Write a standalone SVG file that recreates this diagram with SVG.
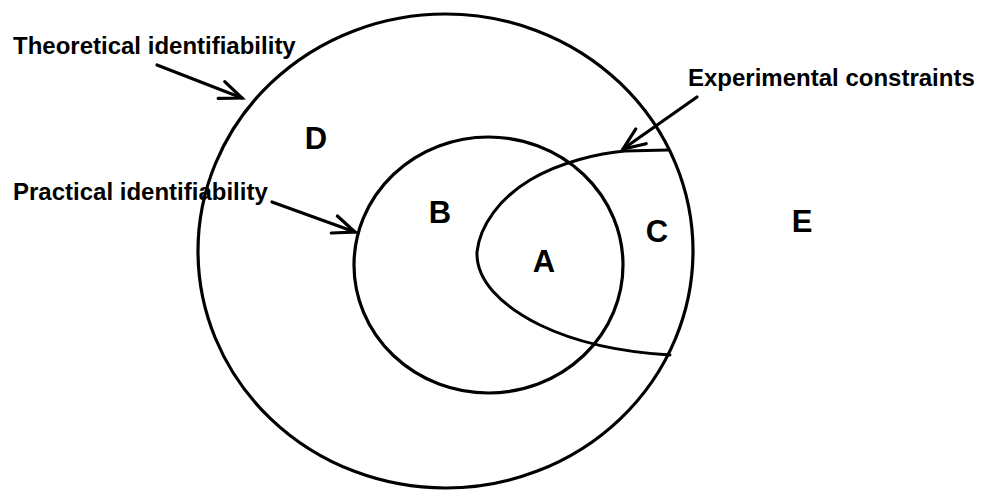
<svg xmlns="http://www.w3.org/2000/svg" width="981" height="491" viewBox="0 0 981 491">
  <style>
    .ring { fill: none; stroke: #000; stroke-width: 3.2; }
    .bound { fill: none; stroke: #000; stroke-width: 3; stroke-linejoin: round; stroke-linecap: round; }
    .ptr { fill: none; stroke: #000; stroke-width: 3.2; stroke-linecap: round; }
    .lbl { font-family: "Liberation Sans", Arial, sans-serif; font-weight: bold; font-size: 24px; fill: #000; }
    .reg { font-family: "Liberation Sans", Arial, sans-serif; font-weight: bold; font-size: 31px; fill: #000; text-anchor: middle; }
  </style>
  <defs>
    <marker id="openHead" markerUnits="userSpaceOnUse" orient="auto" markerWidth="30" markerHeight="30" refX="0" refY="0" viewBox="-26 -13 30 26" overflow="visible">
      <path d="M-22,-9 L0,0 L-22,9" fill="none" stroke="#000" stroke-width="3.2" stroke-linecap="round" stroke-linejoin="miter"/>
    </marker>
  </defs>
  <rect width="981" height="491" fill="#fff"/>

  <g id="theoretical">
    <ellipse class="ring" cx="445.5" cy="251" rx="247.5" ry="237"/>
  </g>
  <g id="practical">
    <ellipse class="ring" cx="488.5" cy="265" rx="134.5" ry="128"/>
  </g>
  <g id="constraints">
    <path class="bound" d="M668,150 L625,151 C600,153 560,162 530,180 C500,198 480,225 477,252 C476,280 500,305 540,325 C575,342 620,352 670,355"/>
  </g>

  <g id="regions">
    <text class="reg" x="316" y="149">D</text>
    <text class="reg" x="440" y="223">B</text>
    <text class="reg" x="657" y="242">C</text>
    <text class="reg" x="544" y="272">A</text>
    <text class="reg" x="802" y="232">E</text>
  </g>

  <g id="labels">
    <text class="lbl" x="13" y="54">Theoretical identifiability</text>
    <text class="lbl" x="13" y="200">Practical identifiability</text>
    <text class="lbl" x="688" y="86">Experimental constraints</text>
  </g>

  <g id="connectors">
    <line class="ptr" x1="157" y1="65" x2="242" y2="98" marker-end="url(#openHead)"/>
    <line class="ptr" x1="272" y1="202" x2="355" y2="232" marker-end="url(#openHead)"/>
    <line class="ptr" x1="697" y1="97" x2="623" y2="149" marker-end="url(#openHead)"/>
  </g>
</svg>
